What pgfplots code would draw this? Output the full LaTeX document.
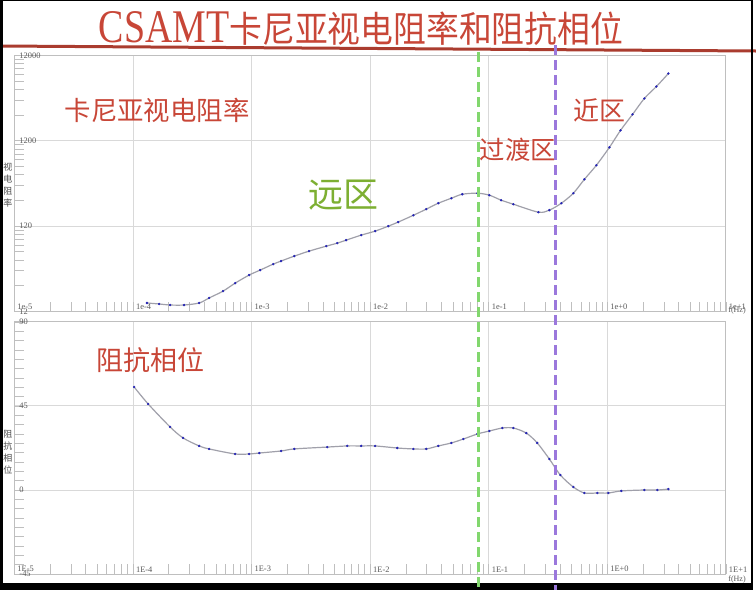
\documentclass[border=0pt]{standalone}
\usepackage{pgfplots}
\pgfplotsset{compat=1.18}
\usepackage{graphicx}
\usepackage{fontspec}
\setmainfont{Liberation Serif}
\newfontfamily\cjk{Noto Sans CJK SC}
\definecolor{tred}{RGB}{200,70,55}
\definecolor{zgreen}{RGB}{125,175,50}
\definecolor{lgreen}{RGB}{130,215,110}
\definecolor{lpurple}{RGB}{155,120,220}
\definecolor{curvec}{RGB}{160,160,170}
\definecolor{dotc}{RGB}{35,35,180}
\pgfplotsset{
  /pgfplots/mypanel/.style={
    scale only axis, width=355.75pt,
    xmin=1e-5, xmax=1e1,
    axis line style={draw=black!25, line width=0.5pt},
    grid=major, major grid style={draw=black!15, line width=0.5pt},
    tick align=inside, tick pos=left,
    major tick length=5pt, minor tick length=5pt,
    tick style={draw=black!25, line width=0.4pt},
    xtick={1e-5,1e-4,1e-3,1e-2,1e-1,1,10},
    minor xtick={2e-5,3e-5,4e-5,5e-5,6e-5,7e-5,8e-5,9e-5,
      2e-4,3e-4,4e-4,5e-4,6e-4,7e-4,8e-4,9e-4,
      2e-3,3e-3,4e-3,5e-3,6e-3,7e-3,8e-3,9e-3,
      0.02,0.03,0.04,0.05,0.06,0.07,0.08,0.09,
      0.2,0.3,0.4,0.5,0.6,0.7,0.8,0.9,
      2,3,4,5,6,7,8,9},
    ticklabel style={font=\fontsize{4.2}{4.2}\selectfont, text=black!65},
    xticklabel style={anchor=south west, inner sep=0.8pt, xshift=0.5pt},
    yticklabel style={anchor=west, inner sep=0.8pt, xshift=1.5pt},
    clip=false,
  },
  /pgfplots/curvestyle/.style={draw=curvec, line width=0.6pt, smooth, mark=*, mark size=0.5pt,
    mark options={draw=dotc, fill=dotc, line width=0.2pt}},
}
\begin{document}
\begin{tikzpicture}[x=0.5pt, y=-0.5pt]
\path[use as bounding box, fill=white] (0,0) rectangle (756,590);

% title
\node[inner sep=0, text=tred] at (361,29)
  {\scalebox{0.81}[1]{\fontsize{23.4}{24}\selectfont CSAMT}\scalebox{1}[1.1]{\fontsize{16.4}{17}\selectfont\cjk 卡尼亚视电阻率和阻抗相位}};
\draw[color=tred!85!black, line width=1.5pt] (0,46) -- (756,51);

% top panel
\begin{loglogaxis}[mypanel, at={(7.25pt,-155.75pt)}, anchor=south west, height=128pt,
  ymin=12, ymax=12000,
  ytick={12,120,1200,12000}, yticklabels={12,120,1200,12000},
  minor ytick={24,36,48,60,72,84,96,108,240,360,480,600,720,840,960,1080,2400,3600,4800,6000,7200,8400,9600,10800},
  xticklabels={1e-5,1e-4,1e-3,1e-2,1e-1,1e+0,1e+1}]
\addplot[curvestyle] coordinates {
(1.31e-4,15.1) (1.66e-4,14.7) (2.05e-4,14.3) (2.69e-4,14.3) (3.61e-4,15.1)
(4.38e-4,17.3) (5.74e-4,20.8) (7.26e-4,25.8) (9.53e-4,32.1) (1.18e-3,36.7)
(1.52e-3,43.1) (1.77e-3,46.8) (2.29e-3,53.5) (3.05e-3,61.2) (4.26e-3,70.0)
(5.27e-3,75.9) (6.26e-3,82.3) (8.39e-3,94.2) (1.10e-2,105) (1.42e-2,120)
(1.72e-2,134) (2.31e-2,161) (2.97e-2,190) (3.75e-2,223) (4.83e-2,255)
(5.97e-2,284) (8.00e-2,292) (0.101,277) (0.127,242) (0.161,217)
(0.262,175) (0.324,185) (0.409,223) (0.516,292) (0.640,425)
(0.807,621) (1.04,1007) (1.29,1592) (1.63,2450) (2.05,3770)
(2.59,5200) (3.27,7390)
};
\coordinate (gT) at (axis cs:0.0815,12000);
\coordinate (pT) at (axis cs:0.367,12000);
\end{loglogaxis}

% bottom panel
\begin{semilogxaxis}[mypanel, at={(7.25pt,-287pt)}, anchor=south west, height=126pt,
  ymin=-45, ymax=90,
  ytick={-45,0,45,90}, yticklabels={-45,0,45,90},
  minor y tick num=8,
  xticklabels={1E-5,1E-4,1E-3,1E-2,1E-1,1E+0,1E+1}]
\addplot[curvestyle] coordinates {
(1.02e-4,55.2) (1.34e-4,46.1) (2.05e-4,33.8) (2.64e-4,27.9) (3.61e-4,23.6)
(4.38e-4,22.0) (7.26e-4,19.3) (9.53e-4,19.3) (1.16e-3,19.8) (1.77e-3,20.9)
(2.29e-3,22.0) (4.34e-3,23.0) (6.40e-3,23.6) (8.39e-3,23.6) (1.10e-2,23.6)
(1.69e-2,22.5) (2.31e-2,22.0) (2.97e-2,22.0) (3.75e-2,23.6) (4.83e-2,25.2)
(6.10e-2,27.3) (8.00e-2,30.0) (0.101,31.6) (0.130,33.2) (0.161,33.2)
(0.207,30.5) (0.256,25.2) (0.324,16.6) (0.401,8.0) (0.516,1.6)
(0.640,-1.6) (0.824,-1.6) (1.02,-1.6) (1.31,-0.5) (2.05,0) (2.64,0) (3.27,0.5)
};
\coordinate (gB) at (axis cs:0.0815,-45);
\end{semilogxaxis}

% frequency unit labels
\node[inner sep=0, font=\fontsize{4}{4}\selectfont, text=black!65] at (737,311) {f(Hz)};
\node[inner sep=0, font=\fontsize{4}{4}\selectfont, text=black!65] at (737,580) {f(Hz)};

% vertical axis titles
\node[inner sep=0, align=center, font=\cjk\fontsize{4.5}{6}\selectfont, text=black!70] at (8,185) {视\\电\\阻\\率};
\node[inner sep=0, align=center, font=\cjk\fontsize{4.5}{6}\selectfont, text=black!70] at (8,452) {阻\\抗\\相\\位};

% annotations
\node[inner sep=0, text=tred, font=\cjk\fontsize{13.2}{14}\selectfont] at (157,110) {卡尼亚视电阻率};
\node[inner sep=0, text=zgreen, font=\cjk\fontsize{17.5}{18}\selectfont] at (343,195) {远区};
\node[inner sep=0, text=tred, font=\cjk\fontsize{12.7}{13}\selectfont] at (518,150) {过渡区};
\node[inner sep=0, text=tred, font=\cjk\fontsize{13}{13}\selectfont] at (599,110) {近区};
\node[inner sep=0, text=tred, font=\cjk\fontsize{13.5}{14}\selectfont] at (151,360) {阻抗相位};

% black frame
\coordinate (bot) at (0,590);
\coordinate (topP) at (0,45);
\coordinate (topG) at (0,52);
\fill[black] (0,0) rectangle (3,590);
\fill[black] (0,583) rectangle (753,590);
\fill[black] (751,0) rectangle (753,590);
\fill[black] (0,0) rectangle (753,1);

% dashed boundaries
\draw[lgreen, line width=1.5pt, dash pattern=on 5pt off 2.5pt] (gT |- topG) -- (gB |- bot);
\draw[lpurple, line width=1.5pt, dash pattern=on 5pt off 2.5pt] (pT |- topP) -- (pT |- bot);
\end{tikzpicture}
\end{document}
